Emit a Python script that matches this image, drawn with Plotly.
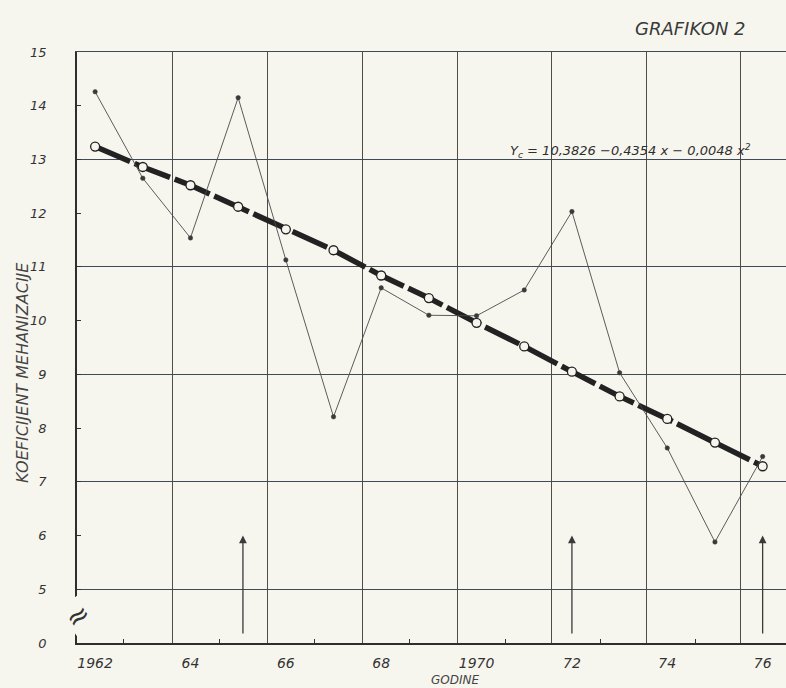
import plotly.graph_objects as go

# ---- data ----
years = [1962, 1963, 1964, 1965, 1966, 1967, 1968, 1969, 1970, 1971, 1972, 1973, 1974, 1975, 1976]
actual = [14.26, 12.65, 11.54, 14.15, 11.13, 8.21, 10.61, 10.10, 10.09, 10.57, 12.03, 9.03, 7.63, 5.88, 7.47]
trend = [13.24, 12.86, 12.52, 12.12, 11.70, 11.31, 10.84, 10.42, 9.96, 9.52, 9.05, 8.59, 8.17, 7.73, 7.29]

x_tick_vals = [1962, 1964, 1966, 1968, 1970, 1972, 1974, 1976]
x_tick_text = ["1962", "64", "66", "68", "1970", "72", "74", "76"]
y_tick_vals = [4.0, 5, 6, 7, 8, 9, 10, 11, 12, 13, 14, 15]
y_tick_text = ["0", "5", "6", "7", "8", "9", "10", "11", "12", "13", "14", "15"]
y_grid_vals = [5, 7, 9, 11, 13, 15]
x_grid_vals = [1963.63, 1965.61, 1967.60, 1969.59, 1971.58, 1973.57, 1975.54]
x_minor_vals = [1962.6, 1964.6, 1966.6, 1968.6, 1970.6, 1972.6, 1974.6]
arrow_years = [1965.1, 1972.0, 1976.0]

title_text = "GRAFIKON 2"
formula_text = "Y<sub>c</sub> = 10,3826 −0,4354 x − 0,0048 x<sup>2</sup>"
y_title = "KOEFICIJENT MEHANIZACIJE"
x_title = "GODINE"

X_RANGE = [1961.62, 1976.49]
Y_RANGE = [4.0, 15.0]

PAPER = "#f7f6ee"
INK = "#333333"
FONT = "DejaVu Sans"

fig = go.Figure()

# actual series drawn on the overlay axes (same ranges), so those axes render their grid
fig.add_trace(go.Scatter(
    x=years, y=actual, mode="lines+markers", xaxis="x2", yaxis="y2",
    line=dict(color="#4a4a4a", width=0.9),
    marker=dict(size=4.5, color="#3a3a3a", line=dict(color="#3a3a3a", width=0.5)),
    showlegend=False, hoverinfo="x+y"))

fig.add_trace(go.Scatter(
    x=years, y=trend, mode="lines+markers",
    line=dict(color="#222222", width=5.5, dash="38px,5px"),
    marker=dict(size=9, color=PAPER, line=dict(color="#222222", width=1.3)),
    showlegend=False, hoverinfo="x+y"))

fig.update_layout(
    width=786, height=688,
    paper_bgcolor=PAPER, plot_bgcolor=PAPER,
    margin=dict(l=77, r=0, t=52, b=45),
    font=dict(family=FONT, color=INK),
    xaxis=dict(
        range=X_RANGE, showgrid=False, zeroline=False,
        tickmode="array", tickvals=x_tick_vals, ticktext=x_tick_text,
        ticks="", ticklabelstandoff=6,
        tickfont=dict(size=14, style="italic", color=INK),
        showline=True, linecolor="#2e2e2e", linewidth=2,
        minor=dict(tickmode="array", tickvals=x_minor_vals, ticks="inside",
                   ticklen=4, tickwidth=1.2, tickcolor="#333", showgrid=False),
    ),
    xaxis2=dict(
        range=X_RANGE, overlaying="x", side="top", anchor="y2",
        tickmode="array", tickvals=x_grid_vals, showticklabels=False, ticks="",
        showgrid=True, gridcolor="#4d4d4d", gridwidth=1, zeroline=False,
        showline=True, linecolor="#3e4a55", linewidth=1.3,
    ),
    yaxis=dict(
        range=Y_RANGE, showgrid=False, zeroline=False,
        tickmode="array", tickvals=y_tick_vals, ticktext=y_tick_text,
        ticks="inside", ticklen=4, tickwidth=1.2, tickcolor="#333",
        ticklabelstandoff=26,
        tickfont=dict(size=13, style="italic", color=INK),
        showline=True, linecolor="#2e2e2e", linewidth=1.6,
    ),
    yaxis2=dict(
        range=Y_RANGE, overlaying="y", side="left", anchor="x2",
        tickmode="array", tickvals=y_grid_vals, showticklabels=False, ticks="",
        showgrid=True, gridcolor="#3e4a55", gridwidth=1.1, zeroline=False,
        showline=False,
    ),
)

# axis break symbol on the y axis
fig.add_annotation(xref="paper", yref="y", x=0, y=4.5, text="≈",
                   showarrow=False, textangle=-35,
                   font=dict(size=28, color="#333"), bgcolor=PAPER,
                   xanchor="center", yanchor="middle", borderpad=0)

# arrows
for ay in arrow_years:
    fig.add_annotation(x=ay, y=6.0, ax=ay, ay=4.15, xref="x", yref="y",
                       axref="x", ayref="y", text="", showarrow=True,
                       arrowhead=2, arrowsize=1.2, arrowwidth=1.3,
                       arrowcolor="#3a3a3a")

# title
fig.add_annotation(xref="paper", yref="paper", x=0.8646, y=1.0406,
                   text=title_text, showarrow=False,
                   font=dict(size=18, style="italic", color="#3a3a3a"),
                   xanchor="center", yanchor="middle")

# formula
fig.add_annotation(xref="x", yref="y", x=1970.66, y=13.15,
                   text=formula_text, showarrow=False,
                   font=dict(size=13, style="italic", color="#2e2e2e"),
                   xanchor="left", yanchor="middle")

# y axis title
fig.add_annotation(xref="paper", yref="paper", x=-0.0776, y=0.4585,
                   text=y_title, showarrow=False, textangle=-90,
                   font=dict(size=16, style="italic", color="#444"),
                   xanchor="center", yanchor="middle")

# x axis title
fig.add_annotation(xref="x", yref="paper", x=1969.55, y=-0.0626,
                   text=x_title, showarrow=False,
                   font=dict(size=12, style="italic", color="#444"),
                   xanchor="center", yanchor="middle")

fig.write_html(
    "out.html",
    config={"displayModeBar": False},
    post_script="document.body.style.margin='0';document.body.style.background='#f7f6ee';",
)
